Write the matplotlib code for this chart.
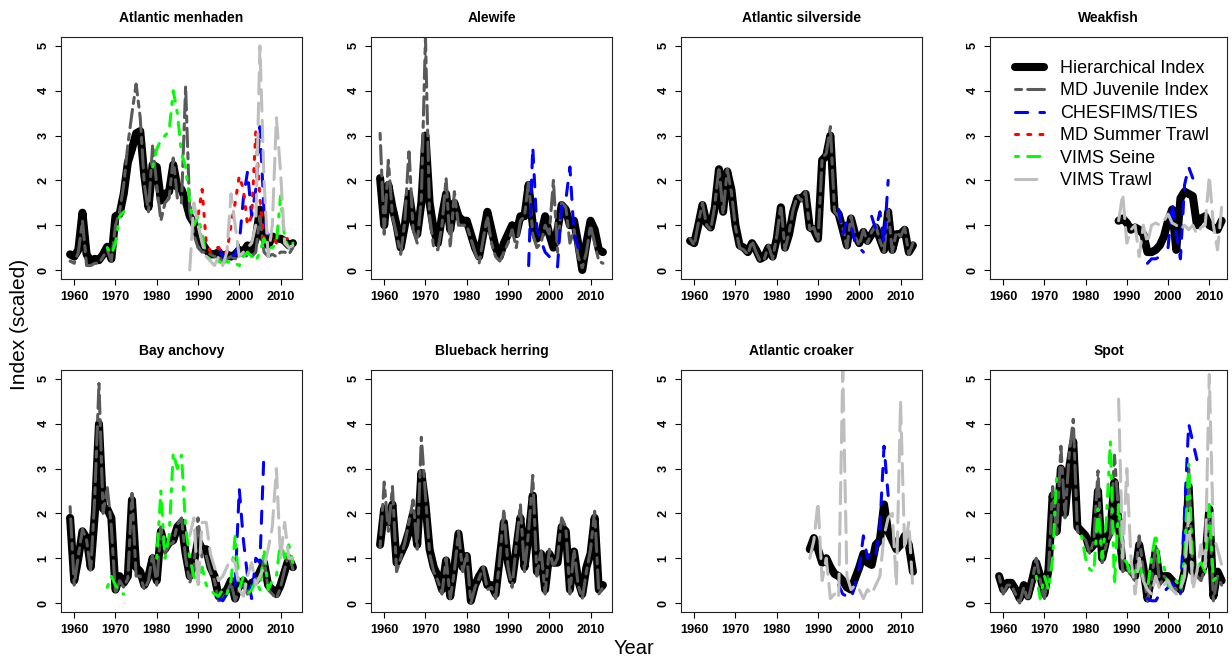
import numpy as np
import matplotlib
matplotlib.use("Agg")
import matplotlib.pyplot as plt
from matplotlib.lines import Line2D
from matplotlib import font_manager

plt.rcParams['font.family'] = ['Liberation Sans', 'DejaVu Sans']
installed = {f.name for f in font_manager.fontManager.ttflist}
tick_family = 'Liberation Sans Narrow' if 'Liberation Sans Narrow' in installed else 'Liberation Sans'

nan = np.nan

# ---- data (annual values, scaled index); series start year given by *_from ----
# Atlantic menhaden
menhaden_hier = [0.35, 0.30, 0.45, 1.28, 0.35, 0.20, 0.25, 0.22, 0.35, 0.52,
                 0.25, 1.20, 1.25, 1.70, 2.40, 2.70, 3.05, 3.10, 2.10, 1.40,
                 2.35, 2.30, 1.55, 1.70, 1.75, 2.35, 1.85, 1.80, 1.55, 1.20,
                 1.05, 0.75, 0.60, 0.45, 0.35, 0.35, 0.40, 0.30, 0.35, 0.30,
                 0.35, 0.45, 0.40, 0.55, 0.45, 0.70, 1.35, 0.70, 0.55, 0.75,
                 0.70, 0.70, 0.65, 0.55, 0.60]
menhaden_mdj = [0.20, 0.15, 0.40, 1.10, 0.10, 0.10, 0.15, 0.15, 0.30, 0.45,
                0.20, 1.00, 1.30, 1.90, 2.80, 3.50, 4.15, 3.40, 1.90, 1.30,
                2.80, 1.90, 1.10, 1.50, 1.60, 2.50, 1.60, 1.50, 4.10, 1.30,
                0.80, 0.50, 0.40, 0.40, 0.35, 0.30, 0.30, 0.20, 0.25, 0.30,
                0.25, 0.30, 0.35, 0.30, 0.30, 0.40, 1.20, 0.40, 0.30, 0.35,
                0.30, 0.40, 0.40, 0.35, 0.50]
menhaden_ches_from = 1995
menhaden_ches = [0.50, 0.30, 0.40, 0.30, 0.35, 0.60, 1.60, 2.20, 1.20, 1.80, 3.20, 1.30, 0.60]
menhaden_sum_from = 1989
menhaden_sum = [1.00, 1.20, 1.80, 0.60, 0.40, 0.50, 0.50, 0.35, 0.40, 1.00,
                1.50, 2.10, 1.80, 1.00, 1.20, 3.10, 1.60, 0.70, 0.60, 0.80,
                0.60, 0.65, 0.70, 0.70, 0.60]
menhaden_seine_from = 1968
menhaden_seine = [0.50, 0.35, 0.60, 1.20, 1.30, nan, nan, nan, nan, nan, nan,
                  2.30, 2.70, 2.90, 3.00, 3.10, 4.00, 3.50, 2.60, 2.30, 1.50,
                  1.00, 1.20, 0.80, 0.30, 0.25, 0.20, 0.20, 0.15, 0.20, 0.15,
                  0.15, 0.10, 0.30, 0.40, 0.30, 0.20, 0.40, 0.70, 0.50, 0.50,
                  0.60, 1.65, 0.70, 0.50, 0.60]
menhaden_vimst_from = 1988
menhaden_vimst = [0.00, 1.50, 1.00, 0.60, 0.30, 0.20, 0.10, 0.30, 0.10, 0.40,
                  1.70, 1.00, 0.30, 0.40, 0.50, 0.60, 1.00, 5.00, 2.00, 0.30,
                  1.00, 3.40, 2.20, 0.60, 0.50, 0.55]

# Alewife
alewife_hier = [2.05, 1.00, 1.90, 1.40, 1.00, 0.50, 1.00, 1.70, 1.10, 0.80,
                1.50, 3.00, 1.50, 0.90, 0.60, 1.20, 1.70, 0.90, 1.50, 1.20,
                1.10, 1.10, 0.80, 0.50, 0.30, 0.80, 1.30, 0.90, 0.50, 0.30,
                0.60, 0.80, 1.00, 0.80, 1.20, 1.20, 1.90, 1.00, 0.70, 0.80,
                1.20, 0.80, 0.50, 0.90, 1.45, 1.35, 1.00, 1.10, 0.60, 0.00,
                0.60, 1.10, 0.90, 0.45, 0.40]
alewife_mdj = [3.05, 0.80, 2.45, 1.20, 0.80, 0.35, 1.10, 2.70, 0.90, 0.60,
               1.60, 5.20, 1.20, 0.50, 0.45, 1.00, 2.05, 0.50, 1.75, 1.00,
               1.00, 1.00, 0.70, 0.40, 0.15, 0.70, 1.20, 0.60, 0.30, 0.20,
               0.40, 0.60, 0.90, 0.50, 1.10, 1.20, 2.00, 0.80, 0.50, 0.60,
               1.00, 0.80, 2.00, 0.40, 1.50, 1.40, 0.60, 0.90, 0.30, 0.05,
               0.40, 1.00, 0.60, 0.20, 0.15]
alewife_ches_from = 1995
alewife_ches = [0.10, 2.75, 0.90, 0.65, 0.40, 0.30, nan, 0.07, 1.45, 1.55, 2.30, 0.80, 0.50]

# Atlantic silverside
silverside_hier = [0.65, 0.60, 1.00, 1.45, 1.05, 0.95, 1.40, 2.25, 1.30, 2.20,
                   1.80, 1.00, 0.55, 0.50, 0.40, 0.60, 0.45, 0.25, 0.30, 0.50,
                   0.30, 0.70, 1.40, 0.50, 0.80, 1.30, 1.60, 1.60, 1.70, 0.95,
                   0.90, 0.70, 2.45, 2.55, 3.00, 1.35, 1.25, 0.90, 0.55, 1.15,
                   0.80, 0.60, 0.85, 0.65, 0.80, 0.95, 0.70, 0.45, 1.30, 0.45,
                   0.80, 0.80, 0.90, 0.40, 0.55]
silverside_mdj = [0.70, 0.55, 1.05, 1.50, 1.00, 0.90, 1.45, 2.30, 1.25, 2.25,
                  1.75, 0.95, 0.50, 0.45, 0.35, 0.65, 0.40, 0.20, 0.25, 0.55,
                  0.25, 0.75, 1.45, 0.45, 0.85, 1.35, 1.65, 1.55, 1.75, 0.90,
                  0.95, 0.65, 2.50, 2.60, 3.20, 1.30, 1.20, 0.95, 0.50, 1.20,
                  0.75, 0.55, 0.90, 0.60, 0.85, 1.00, 0.65, 0.40, 1.35, 0.40,
                  0.85, 0.75, 0.95, 0.35, 0.60]
silverside_ches_from = 1995
silverside_ches = [1.35, 0.80, 1.10, 1.00, 0.60, 0.50, 0.40, nan, 1.20, 0.90, 1.30, 0.60, 2.00]

# Weakfish
weakfish_hier_from = 1988
weakfish_hier = [1.10, 1.15, 1.05, 0.90, 0.95, 0.90, 0.80, 0.40, 0.40, 0.45,
                 0.55, 0.75, 1.10, 1.35, 0.45, 1.60, 1.75, 1.70, 1.65, 1.00,
                 1.15, 1.20, 1.00, 0.95, 0.90, 1.10]
weakfish_ches_from = 1995
weakfish_ches = [0.15, 0.25, 0.25, 0.30, nan, 0.50, 1.50, 0.80, 0.25, 1.90, 2.30, 2.05]
weakfish_vimst_from = 1988
weakfish_vimst = [1.10, 1.70, 0.60, 0.90, 1.00, 0.30, 1.00, 0.60, 1.00, 1.05,
                  1.00, 1.10, 1.25, 1.05, 1.00, 0.90, 1.00, 0.90, 1.00, 0.80,
                  0.95, 1.00, 2.10, 1.00, 0.45, 1.40]

# Bay anchovy
anchovy_hier = [1.90, 0.50, 1.00, 1.60, 1.45, 0.80, 2.00, 4.00, 2.10, 2.10,
                1.90, 0.30, 0.60, 0.45, 0.60, 2.30, 0.80, 0.70, 0.40, 0.60,
                1.00, 0.50, 1.60, 1.20, 1.35, 1.40, 1.70, 1.80, 1.10, 0.60,
                0.90, 1.40, 1.20, 1.20, 0.80, 0.60, 0.15, 0.20, 0.30, 0.50,
                0.10, 0.40, 0.50, 0.30, 0.45, 0.50, 0.70, 0.90, 0.40, 0.30,
                0.20, 0.40, 0.70, 1.00, 0.80]
anchovy_mdj = [2.15, 0.40, 1.05, 1.65, 1.40, 0.70, 2.40, 4.90, 2.00, 2.60,
               1.70, 0.20, 0.50, 0.35, 0.55, 2.45, 0.60, 0.60, 0.30, 0.50,
               1.10, 0.40, 1.70, 1.10, 1.30, 1.35, 1.75, 1.90, 1.00, 0.45,
               0.80, 1.90, 1.00, 1.05, 0.70, 0.50, 0.05, 0.10, 0.25, 0.45,
               0.05, 0.30, 0.45, 0.20, 0.40, 0.55, 0.55, 1.00, 0.30, 0.20,
               0.10, 0.35, 0.75, 1.10, 0.75]
anchovy_ches_from = 1995
anchovy_ches = [0.10, 0.05, 0.20, 0.30, 0.40, 2.55, 1.40, 0.60, 0.10, 1.00, 0.90, 3.40]
anchovy_seine_from = 1968
anchovy_seine = [0.35, 0.60, 0.40, 0.25, 0.20, nan, nan, nan, nan, nan, nan, nan,
                 1.00, 2.50, 1.00, 1.50, 3.35, 3.00, 3.30, 1.70, 1.00, 0.60,
                 0.40, 0.80, 0.40, 0.30, 0.20, 0.15, 0.30, 0.20, 0.50, 1.50,
                 0.30, 0.60, 0.20, 0.30, 0.50, 0.30, 1.20, 0.30, 0.50, 0.60,
                 1.40, 1.00, 1.30, 0.90]
anchovy_vimst_from = 1988
anchovy_vimst = [1.50, 1.90, 0.35, 1.80, 1.80, 1.10, 0.80, 0.50, 0.60, 0.80,
                 1.00, 0.90, 0.30, 0.15, 0.60, 0.90, 0.40, 0.60, 0.80, 1.20,
                 1.70, 3.00, 1.00, 1.80, 1.00, 1.00]

# Blueback herring
blueback_hier = [1.30, 2.10, 1.80, 2.20, 0.90, 1.10, 1.30, 1.60, 2.00, 1.30,
                 2.90, 2.20, 1.20, 0.80, 0.60, 0.30, 0.95, 0.15, 0.80, 1.55,
                 0.80, 1.05, 0.05, 0.40, 0.60, 0.75, 0.40, 0.40, 0.20, 1.00,
                 1.80, 0.90, 0.50, 1.20, 1.90, 0.80, 1.50, 2.40, 0.70, 1.10,
                 0.30, 1.10, 0.90, 0.90, 1.70, 1.60, 0.30, 1.15, 0.50, 0.20,
                 0.80, 1.10, 1.90, 0.30, 0.40]
blueback_mdj = [1.25, 2.70, 1.60, 2.60, 0.70, 1.00, 1.35, 1.80, 2.30, 1.20,
                3.70, 2.40, 1.10, 0.70, 0.50, 0.20, 1.00, 0.10, 0.70, 1.60,
                0.70, 1.10, 0.00, 0.35, 0.55, 0.80, 0.30, 0.35, 0.10, 1.00,
                2.10, 0.80, 0.35, 1.30, 2.20, 0.70, 1.60, 2.85, 0.60, 1.20,
                0.20, 1.20, 0.80, 1.00, 1.90, 1.70, 0.20, 1.20, 0.40, 0.10,
                0.70, 1.20, 2.05, 0.20, 0.35]

# Atlantic croaker
croaker_hier_from = 1988
croaker_hier = [1.20, 1.45, 1.20, 0.90, 1.00, 0.80, 0.65, 0.60, 0.50, 0.35,
                0.30, 0.55, 0.80, 1.10, 0.90, 0.85, 1.30, 1.40, 2.20, 1.60,
                1.40, 1.20, 1.30, 1.50, 1.30, 0.70]
croaker_ches_from = 1995
croaker_ches = [0.40, 0.20, 0.15, 0.10, 0.40, 0.80, 1.50, 1.00, 1.20, 1.10, 1.70, 3.50, 2.40]
croaker_vimst_from = 1988
croaker_vimst = [1.00, 1.40, 2.25, 0.50, 1.00, 0.10, 0.20, 0.10, 5.20, 0.60,
                 0.30, 0.40, 0.30, 0.10, 0.30, 0.20, 0.40, 0.60, 1.50, 1.90,
                 2.00, 0.40, 4.50, 1.20, 1.80, 0.30]

# Spot
spot_hier = [0.60, 0.30, 0.45, 0.45, 0.30, 0.10, 0.40, 0.15, 0.50, 0.90,
             0.60, 0.20, 0.75, 2.40, 1.60, 3.00, 2.00, 3.00, 3.60, 1.70,
             1.60, 1.50, 1.20, 1.30, 2.50, 1.00, 1.40, 1.60, 2.70, 1.80,
             0.80, 0.80, 0.75, 0.60, 1.30, 0.80, 0.10, 0.60, 1.15, 0.50,
             0.60, 0.60, 0.50, 0.40, 0.30, 0.70, 2.60, 0.70, 0.70, 0.65,
             0.90, 2.10, 0.15, 0.70, 0.50]
spot_mdj = [0.60, 0.20, 0.40, 0.40, 0.20, 0.00, 0.35, 0.05, 0.45, 1.00,
            0.50, 0.10, 0.70, 2.60, 1.50, 3.50, 1.90, 3.30, 4.10, 1.60,
            1.50, 1.40, 1.10, 1.40, 2.95, 0.90, 1.30, 1.50, 3.30, 2.00,
            0.70, 0.80, 0.60, 0.50, 1.50, 0.70, 0.05, 0.50, 1.30, 0.40,
            0.60, 0.50, 0.40, 0.30, 0.20, 0.60, 3.00, 0.60, 0.60, 0.50,
            0.80, 2.10, 0.05, 0.60, 0.40]
spot_ches_from = 1995
spot_ches = [0.10, 0.05, 0.05, 0.20, 0.25, 0.35, 0.45, 0.30, 0.20, 2.00, 4.00, 3.60, 3.20]
spot_seine_from = 1968
spot_seine = [0.60, 0.10, 0.60, 0.30, 1.00, 2.90, nan, nan, nan, nan, nan,
              1.50, 1.00, 0.75, 0.70, 2.10, 1.00, 1.80, 3.60, 0.40, 2.20,
              1.00, 0.90, 0.60, 0.70, 0.90, 0.50, 0.30, 1.00, 1.55, 0.80,
              0.80, 0.40, 0.30, 0.50, 0.30, 1.00, 3.10, 0.80, 0.80, 0.90,
              0.70, 2.20, 0.50, 0.60, 0.60]
spot_vimst_from = 1988
spot_vimst = [4.55, 1.00, 3.00, 1.00, 0.20, 1.00, 0.50, 0.30, 0.20, 0.60,
              0.30, 0.40, 0.50, 0.30, 0.20, 0.30, 0.60, 2.00, 0.30, 0.70,
              1.30, 0.80, 5.10, 1.50, 1.20, 0.85]

species = ["Atlantic menhaden", "Alewife", "Atlantic silverside", "Weakfish",
           "Bay anchovy", "Blueback herring", "Atlantic croaker", "Spot"]

panels = [
    {"hier": (1959, menhaden_hier), "mdj": (1959, menhaden_mdj),
     "ches": (menhaden_ches_from, menhaden_ches), "sum": (menhaden_sum_from, menhaden_sum),
     "seine": (menhaden_seine_from, menhaden_seine), "vimst": (menhaden_vimst_from, menhaden_vimst)},
    {"hier": (1959, alewife_hier), "mdj": (1959, alewife_mdj),
     "ches": (alewife_ches_from, alewife_ches)},
    {"hier": (1959, silverside_hier), "mdj": (1959, silverside_mdj),
     "ches": (silverside_ches_from, silverside_ches)},
    {"hier": (weakfish_hier_from, weakfish_hier), "ches": (weakfish_ches_from, weakfish_ches),
     "vimst": (weakfish_vimst_from, weakfish_vimst)},
    {"hier": (1959, anchovy_hier), "mdj": (1959, anchovy_mdj),
     "ches": (anchovy_ches_from, anchovy_ches), "seine": (anchovy_seine_from, anchovy_seine),
     "vimst": (anchovy_vimst_from, anchovy_vimst)},
    {"hier": (1959, blueback_hier), "mdj": (1959, blueback_mdj)},
    {"hier": (croaker_hier_from, croaker_hier), "ches": (croaker_ches_from, croaker_ches),
     "vimst": (croaker_vimst_from, croaker_vimst)},
    {"hier": (1959, spot_hier), "mdj": (1959, spot_mdj),
     "ches": (spot_ches_from, spot_ches), "seine": (spot_seine_from, spot_seine),
     "vimst": (spot_vimst_from, spot_vimst)},
]

# line styles roughly matching R's lty types
styles = {
    "hier": dict(color="black", lw=5.8, ls="-", label="Hierarchical Index"),
    "mdj": dict(color="#5a5a5a", lw=2.2, ls=(0, (2, 2, 6, 2)), label="MD Juvenile Index"),
    "ches": dict(color="#0000ff", lw=2.2, ls=(0, (4, 4)), label="CHESFIMS/TIES"),
    "sum": dict(color="#ff0000", lw=2.2, ls=(0, (1, 3)), label="MD Summer Trawl"),
    "seine": dict(color="#00ff00", lw=2.2, ls=(0, (1, 3, 4, 3)), label="VIMS Seine"),
    "vimst": dict(color="#bebebe", lw=2.2, ls=(0, (7, 3)), label="VIMS Trawl"),
}
order = ["hier", "mdj", "ches", "sum", "seine", "vimst"]

fig = plt.figure(figsize=(12.32, 6.62), dpi=100)
W, H = 1232.0, 662.0
col_left = [61, 371, 681, 990]
col_width = [241, 241, 241, 237]
col_xmax = [2015.2, 2015.2, 2015.2, 2014.3]
row_top = [37, 370]
row_height = [242, 242]

for i, name in enumerate(species):
    r, c = divmod(i, 4)
    ax = fig.add_axes([col_left[c] / W, 1 - (row_top[r] + row_height[r]) / H,
                       col_width[c] / W, row_height[r] / H])
    for key in order:
        if key not in panels[i]:
            continue
        start, vals = panels[i][key]
        yrs = np.arange(start, start + len(vals))
        ax.plot(yrs, vals, solid_capstyle="round", dash_capstyle="round",
                solid_joinstyle="round", **styles[key])
    ax.set_xlim(1956.8, col_xmax[c])
    ax.set_ylim(-0.2, 5.2)
    ax.set_xticks(range(1960, 2011, 10))
    ax.set_yticks(range(0, 6))
    ax.tick_params(direction="out", length=4.3, width=0.8, labelsize=9.2, pad=4)
    for lab in ax.get_xticklabels() + ax.get_yticklabels():
        lab.set_fontweight("bold")
        lab.set_family(tick_family)
    for lab in ax.get_yticklabels():
        lab.set_rotation(90)
        lab.set_va("center")
    for sp in ax.spines.values():
        sp.set_linewidth(0.8)
        sp.set_color("#222222")
    ax.set_title(name, fontsize=10, fontweight="bold", pad=11)

    if name == "Weakfish":
        handles = [Line2D([0], [0], color=styles[k]["color"], lw=styles[k]["lw"],
                          ls=styles[k]["ls"], solid_capstyle="round",
                          dash_capstyle="round") for k in order]
        labels = [styles[k]["label"] for k in order]
        ax.legend(handles, labels, loc="upper left", bbox_to_anchor=(0.107, 0.905),
                  frameon=False, fontsize=13, handlelength=1.6, handletextpad=0.9,
                  labelspacing=0.3, borderpad=0, borderaxespad=0)

fig.text(20 / W, 1 - 324 / H, "Index (scaled)", rotation=90, ha="center", va="center",
         fontsize=15)
fig.text(634 / W, 1 - 648 / H, "Year", ha="center", va="center", fontsize=14.5)

fig.savefig("out.png", dpi=100)
